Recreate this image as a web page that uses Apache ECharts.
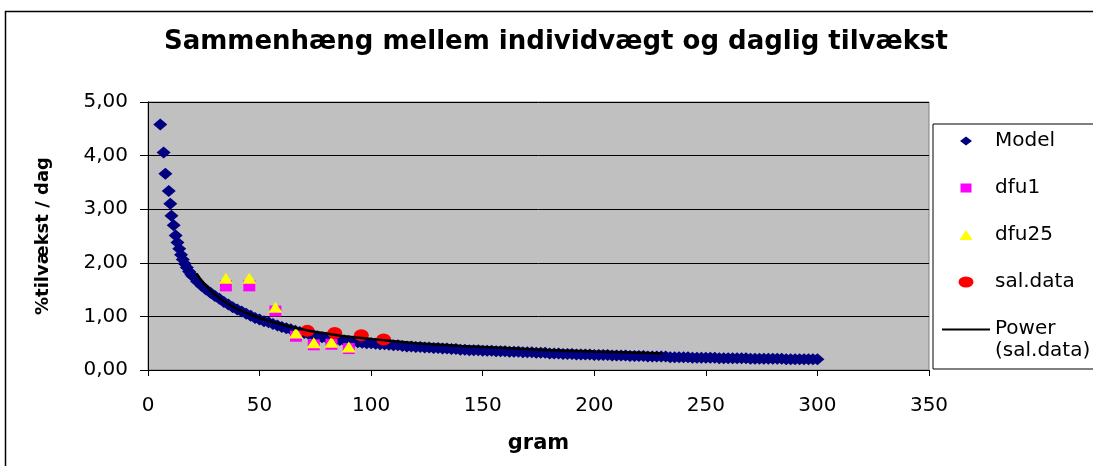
<!DOCTYPE html>
<html><head><meta charset="utf-8">
<script src="https://cdn.jsdelivr.net/npm/echarts@6/dist/echarts.min.js"></script>
<style>html,body{margin:0;padding:0;background:#fff}#c{width:1093px;height:466px}</style>
</head><body><div id="c"></div>
<script>
const titleText = 'Sammenhæng mellem individvægt og daglig tilvækst';
const xAxisName = 'gram';
const yAxisName = '%tilvækst / dag';
const xTickLabels = ['0','50','100','150','200','250','300','350'];
const yTickLabels = ['0,00','1,00','2,00','3,00','4,00','5,00'];
const seriesNames = ['Model','dfu1','dfu25','sal.data','Power (sal.data)'];

const modelX = [5.5,7.0,7.8,9.3,10.0,10.5,11.5,12.4,13.2,14.0,14.8,15.6,16.5,17.4,18.4,19.4,
  20,22,24,26,28,30,32,34,36,38,40,42,44,46,48,50,52,54,56,58,60,
  62,64,66,68,70,72,74,76,78,80,82,84,86,88,90,92,94,96,98,100,
  102,104,106,108,110,112,114,116,118,120,122,124,126,128,130,132,134,136,138,140,
  142,144,146,148,150,152,154,156,158,160,162,164,166,168,170,172,174,176,178,180,
  182,184,186,188,190,192,194,196,198,200,202,204,206,208,210,212,214,216,218,220,
  222,224,226,228,230,232,234,236,238,240,242,244,246,248,250,252,254,256,258,260,
  262,264,266,268,270,272,274,276,278,280,282,284,286,288,290,292,294,296,298,300];
const modelY = [4.58,4.06,3.66,3.34,3.10,2.88,2.70,2.51,2.38,2.26,2.15,2.06,1.98,1.91,1.84,1.78,
  1.75,1.65,1.57,1.50,1.44,1.38,1.33,1.27,1.22,1.17,1.13,1.09,1.05,1.01,0.97,0.94,0.91,0.89,0.86,0.83,0.80,
  0.78,0.76,0.73,0.71,0.69,0.67,0.65,0.63,0.61,0.60,0.59,0.57,0.56,0.55,0.54,0.53,0.52,0.51,0.50,0.50,
  0.49,0.48,0.48,0.47,0.46,0.46,0.45,0.44,0.44,0.43,0.43,0.42,0.42,0.41,0.41,0.40,0.40,0.39,0.39,0.38,
  0.38,0.37,0.37,0.37,0.36,0.36,0.36,0.35,0.35,0.35,0.34,0.34,0.34,0.33,0.33,0.33,0.32,0.32,0.32,0.31,
  0.31,0.31,0.30,0.30,0.30,0.29,0.29,0.29,0.29,0.28,0.28,0.28,0.28,0.27,0.27,0.27,0.27,0.26,0.26,0.26,
  0.26,0.25,0.25,0.25,0.25,0.25,0.24,0.24,0.24,0.24,0.24,0.23,0.23,0.23,0.23,0.23,0.23,0.22,0.22,0.22,
  0.22,0.22,0.22,0.22,0.21,0.21,0.21,0.21,0.21,0.21,0.21,0.21,0.20,0.20,0.20,0.20,0.20,0.20,0.20,0.20];

const dfuX = [34.9,45.4,57.1,66.3,74.3,82.2,90.0];
const dfu1Y = [1.57,1.57,1.10,0.63,0.47,0.48,0.40];
const dfu25Y = [1.71,1.71,1.17,0.69,0.51,0.52,0.43];

const salX = [71.4,83.7,95.6,105.6];
const salY = [0.73,0.69,0.65,0.57];

const powerX = [21.7,25,30,35,40,50,60,70,80,90,100,120,140,160,180,200,230.8];
const powerY = [1.80,1.62,1.41,1.26,1.14,0.97,0.85,0.75,0.68,0.62,0.58,0.50,0.45,0.41,0.37,0.345,0.31];

const zip = (xs, ys) => xs.map((x, i) => [x, ys[i]]);
const ELLIPSE = 'path://M0,6A7.5,6 0 1 1 15,6A7.5,6 0 1 1 0,6Z';
const FONT = 'DejaVu Sans';

const chart = echarts.init(document.getElementById('c'), null, {renderer: 'canvas'});
chart.setOption({
  animation: false,
  backgroundColor: '#fff',
  title: {
    text: titleText, left: 164, top: 29, padding: 0,
    textStyle: {fontFamily: FONT, fontWeight: 'bold', fontSize: 26, color: '#000'}
  },
  graphic: [{
    type: 'rect', z: -10, silent: true,
    shape: {x: 5.5, y: 11.5, width: 1200, height: 600},
    style: {fill: null, stroke: '#000', lineWidth: 1.5}
  }],
  grid: {left: 148, right: 164, top: 102, bottom: 96, show: true, backgroundColor: '#C0C0C0', borderColor: '#808080', borderWidth: 1},
  xAxis: {
    type: 'value', min: 0, max: 350, interval: 50,
    name: xAxisName, nameLocation: 'middle', nameGap: 63,
    nameTextStyle: {fontFamily: FONT, fontWeight: 'bold', fontSize: 21, color: '#000'},
    axisLine: {lineStyle: {color: '#000', width: 1}},
    axisTick: {show: true, length: 6, lineStyle: {color: '#000'}},
    axisLabel: {margin: 26, fontFamily: FONT, fontSize: 20, color: '#000',
      formatter: v => xTickLabels[Math.round(v / 50)]},
    splitLine: {show: false}
  },
  yAxis: {
    type: 'value', min: 0, max: 5, interval: 1,
    name: yAxisName, nameLocation: 'middle', nameGap: 96,
    nameTextStyle: {fontFamily: FONT, fontWeight: 'bold', fontSize: 18, color: '#000'},
    axisLine: {show: true, lineStyle: {color: '#000', width: 1}},
    axisTick: {show: true, length: 8, lineStyle: {color: '#000'}},
    axisLabel: {margin: 20, fontFamily: FONT, fontSize: 20, color: '#000',
      formatter: v => yTickLabels[Math.round(v)]},
    splitLine: {show: true, lineStyle: {color: '#000', width: 1}}
  },
  legend: {
    orient: 'vertical', left: 933, top: 124,
    padding: [5, 10, 8, 9],
    itemWidth: 48, itemHeight: 12, itemGap: 23,
    backgroundColor: '#fff', borderColor: '#000', borderWidth: 1, borderRadius: 0,
    selectedMode: false,
    textStyle: {fontFamily: FONT, fontSize: 20, color: '#000', lineHeight: 24,
      rich: {
        a: {fontFamily: FONT, fontSize: 20, color: '#000', lineHeight: 24},
        b: {fontFamily: FONT, fontSize: 20, color: '#000', lineHeight: 1, verticalAlign: 'top'}
      }
    },
    formatter: n => n === seriesNames[4] ? '{a|Power}\n{b|(sal.data)}' : n,
    data: [
      {name: seriesNames[0], icon: 'path://M0,0M16,12M2,6L8,1.5L14,6L8,10.5Z'},
      {name: seriesNames[1], icon: 'path://M0,0M16,12M2.5,1.5H13.5V10.5H2.5Z'},
      {name: seriesNames[2], icon: 'path://M0,0M16,12M8,1L14.5,11H1.5Z'},
      {name: seriesNames[3], icon: 'path://M0,0M16,12M0.5,6A7.5,5.5 0 1 1 15.5,6A7.5,5.5 0 1 1 0.5,6Z'},
      {name: seriesNames[4], icon: 'path://M0,0M48,12M0,5H48V7H0Z'}
    ]
  },
  series: [
    {name: seriesNames[0], type: 'scatter', symbol: 'diamond', symbolSize: [14, 12],
      itemStyle: {color: '#000080', opacity: 1}, data: zip(modelX, modelY)},
    {name: seriesNames[1], type: 'scatter', symbol: 'rect', symbolSize: [12, 11],
      itemStyle: {color: '#FF00FF', opacity: 1}, data: zip(dfuX, dfu1Y)},
    {name: seriesNames[2], type: 'scatter', symbol: 'triangle', symbolSize: [14, 11],
      itemStyle: {color: '#FFFF00', opacity: 1}, data: zip(dfuX, dfu25Y)},
    {name: seriesNames[3], type: 'scatter', symbol: ELLIPSE, symbolSize: [15, 12], symbolKeepAspect: false,
      itemStyle: {color: '#FF0000', opacity: 1}, data: zip(salX, salY)},
    {name: seriesNames[4], type: 'line', smooth: true, symbol: 'none', showSymbol: false,
      lineStyle: {color: '#000', width: 2.5}, itemStyle: {color: '#000'}, data: zip(powerX, powerY)}
  ]
});
</script>
</body></html>
